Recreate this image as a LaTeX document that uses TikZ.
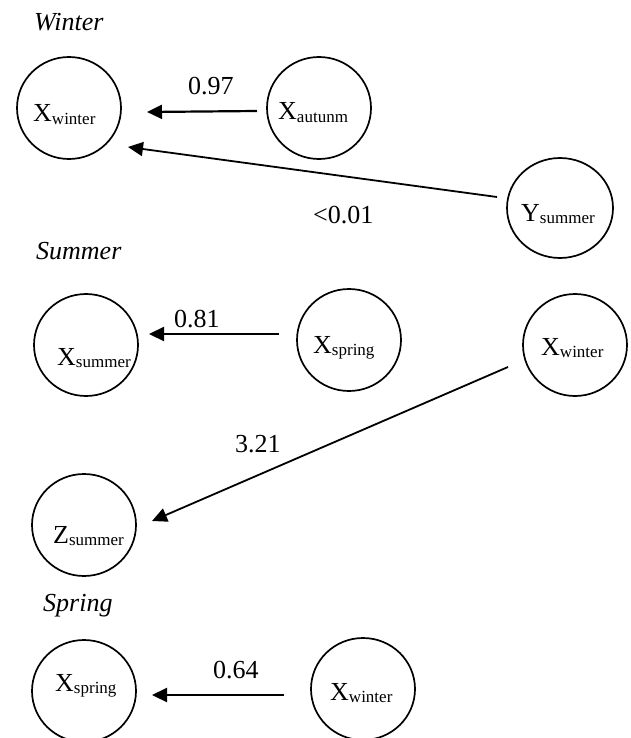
\documentclass[tikz,border=0pt]{standalone}
\usepackage{fontspec}
\setmainfont{Liberation Serif}
\usetikzlibrary{arrows.meta,shapes.geometric}
\newcommand{\sbx}[1]{\raisebox{-2.5pt}{\fontsize{17}{17}\selectfont #1}}
\begin{document}
\begin{tikzpicture}[x=1pt,y=-1pt,
  circ/.style={ellipse, draw, line width=1.7pt, minimum width=104pt, minimum height=102pt, inner sep=0pt},
  lbl/.style={inner sep=0pt, anchor=base west, font=\fontsize{26}{30}\selectfont},
  season/.style={inner sep=0pt, anchor=base west, font=\fontsize{26}{30}\selectfont\itshape},
  arr/.style={-{Triangle[length=15pt,width=14pt]}, line width=2.2pt},
  darr/.style={-{Triangle[length=15pt,width=14pt]}, line width=1.8pt}]
\useasboundingbox (0,0) rectangle (631,738);
\clip (0,0) rectangle (631,738);
\fill[white] (0,0) rectangle (631,738);

% Winter
\node[season] (winter) at (34,31) {Winter};
\node[circ] (xw1) at (69,108) {};
\node[lbl] (xw1t) at (33,122) {X\sbx{winter}};
\node[circ] (xa) at (319,108) {};
\node[lbl] (xat) at (278,120) {X\sbx{autunm}};
\node[circ, minimum width=106pt, minimum height=100pt] (ys) at (560,208) {};
\node[lbl] (yst) at (521,221) {Y\sbx{summer}};
\coordinate (a1s) at (257,111);
\coordinate (a1e) at (147,112);
\draw[arr] (a1s) -- (a1e);
\node[lbl] (l097) at (188,95) {0.97};
\coordinate (a2s) at (497,197);
\coordinate (a2e) at (128,147);
\draw[darr] (a2s) -- (a2e);
\node[lbl] (l001) at (313,223) {<0.01};

% Summer
\node[season] (summer) at (36,259) {Summer};
\node[circ] (xs) at (86,345) {};
\node[lbl] (xst) at (57,365) {X\sbx{summer}};
\node[circ] (xsp) at (349,340) {};
\node[lbl] (xspt) at (313,353) {X\sbx{spring}};
\node[circ] (xw2) at (575,345) {};
\node[lbl] (xw2t) at (541,355) {X\sbx{winter}};
\coordinate (a3s) at (279,334);
\coordinate (a3e) at (149,334);
\draw[arr] (a3s) -- (a3e);
\node[lbl] (l081) at (174,327) {0.81};
\node[circ] (zs) at (84,525) {};
\node[lbl] (zst) at (53,543) {Z\sbx{summer}};
\coordinate (a4s) at (508,367);
\coordinate (a4e) at (152,521);
\draw[darr] (a4s) -- (a4e);
\node[lbl] (l321) at (235,452) {3.21};

% Spring
\node[season] (spring) at (43,611) {Spring};
\node[circ] (xsp2) at (84,691) {};
\node[lbl] (xsp2t) at (55,691) {X\sbx{spring}};
\node[circ] (xw3) at (363,689) {};
\node[lbl] (xw3t) at (330,700) {X\sbx{winter}};
\coordinate (a5s) at (284,695);
\coordinate (a5e) at (152,695);
\draw[arr] (a5s) -- (a5e);
\node[lbl] (l064) at (213,678) {0.64};
\end{tikzpicture}
\end{document}
